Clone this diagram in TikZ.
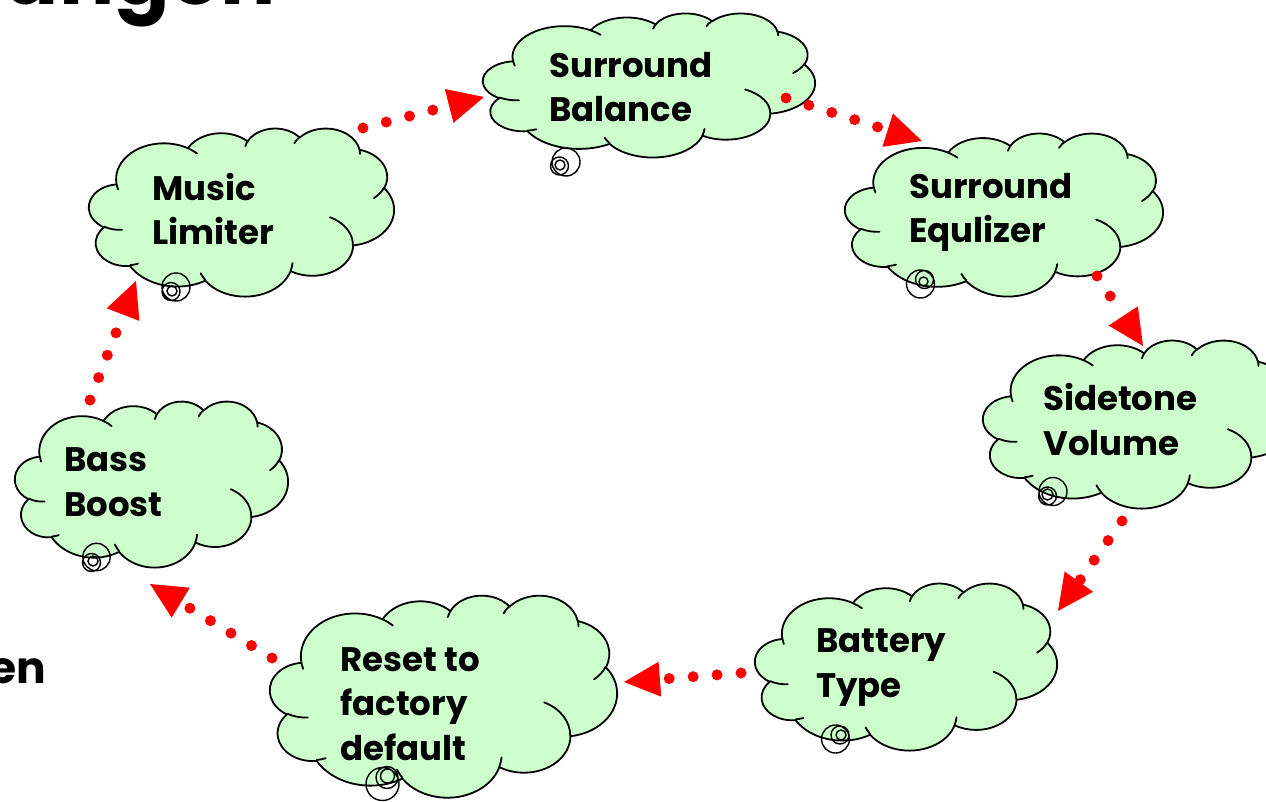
\documentclass[tikz,border=0pt]{standalone}
\usepackage{fontspec}
\setmainfont{Poppins}
\usetikzlibrary{arrows.meta,calc,shapes.geometric}
\definecolor{cloudgreen}{RGB}{204,255,204}
\definecolor{flowred}{RGB}{255,0,0}

% convert OOXML visual angles to parametric ones
\newcommand\pptarcang[4]{%
  \pgfmathsetmacro\pptAx{atan2((#1)*sin(#3),(#2)*cos(#3))}%
  \pgfmathsetmacro\pptRx{atan2((#1)*sin((#3)+(#4)),(#2)*cos((#3)+(#4)))}%
  \pgfmathsetmacro\pptDx{\pptRx-\pptAx-(#4)}%
  \pgfmathsetmacro\pptDx{\pptDx-360*round(\pptDx/360)}%
  \pgfmathsetmacro\pptBx{\pptAx+(#4)+\pptDx}%
  \global\let\pptA\pptAx \global\let\pptB\pptBx}
\newcommand\pparc[4]{\pgfextra{\pptarcang{#1}{#2}{#3}{#4}} arc[start angle=\pptA, end angle=\pptB, x radius=#1, y radius=#2]}

\newcommand\cloudoutline{(39.00,143.70)
  \pparc{67.53}{91.90}{-190.4875}{123.7805}
  \pparc{53.33}{72.67}{-144.1024}{89.9452}
  \pparc{43.65}{59.45}{-145.8079}{99.7230}
  \pparc{48.57}{65.95}{-130.9861}{117.2417}
  \pparc{53.33}{72.73}{-78.7089}{109.0269}
  \pparc{67.75}{92.20}{-46.2673}{130.2690}
  \pparc{57.85}{78.67}{0.6250}{114.0333}
  \pparc{67.52}{92.15}{22.4516}{115.1726}
  \pparc{77.20}{105.43}{66.2426}{75.7110}
  \pparc{43.60}{59.18}{-274.9421}{146.7356}
  \pparc{43.45}{59.45}{-246.8285}{152.5189}
  -- cycle}
\newcommand\cloudinner{%
  (46.93,261.77) \pparc{43.45}{59.45}{86.7420}{26.4295}
  (69.28,348.99) \pparc{43.60}{59.18}{73.6105}{11.4475}
  (164.78,390.90) \pparc{67.52}{92.15}{137.6242}{14.0811}
  (288.27,347.51) \pparc{67.52}{92.15}{6.4533}{15.9984}
  (341.29,229.54) \pparc{57.85}{78.67}{-70.2924}{70.9174}
  (417.98,153.54) \pparc{53.33}{72.73}{30.3180}{27.7515}
  (383.24,54.26) \pparc{48.57}{65.95}{-13.7443}{14.8589}
  (290.78,39.52) \pparc{48.57}{65.95}{-149.1815}{18.1954}
  (221.41,47.20) \pparc{43.65}{59.45}{-163.4943}{17.6864}
  (140.00,51.92) \pparc{67.53}{91.90}{-66.7070}{12.3194}
  (41.27,157.89) \pparc{67.53}{91.90}{157.6544}{11.8582}}

\tikzset{
  cloudframe/.style={ellipse, inner sep=0pt, draw=none},
  cloudshape/.style={draw=black, fill=cloudgreen, line width=1.8pt, line join=round},
  cloudinnerline/.style={draw=black, line width=1.8pt, line cap=round},
  bubble/.style={draw=black, line width=1.4pt},
  lbl/.style={font=\bfseries\fontsize{34}{44.5}\selectfont, align=left, inner sep=0pt, anchor=base west, text=black},
  flow/.style={draw=flowred, line width=11pt, line cap=round, dash pattern=on 0pt off 24pt,
    -{Triangle[length=36pt,width=35pt,line width=0pt]}, fill=none}
}

\newcommand\pptcloud[5]{%
  \node[cloudframe, minimum width=#4pt, minimum height=#5pt] (#1) at ({#2+#4/2},{#3+#5/2}) {};
  \begin{scope}[shift={(#2,#3)}, xscale=#4/432, yscale=#5/432]
    \path[cloudshape] \cloudoutline;
    \path[cloudinnerline] \cloudinner;
  \end{scope}}

\begin{document}
\begin{tikzpicture}[x=1pt, y=-1pt]
\useasboundingbox (0,0) rectangle (1266,802);
\fill[white] (0,0) rectangle (1266,802);

% partial heading and side text (cut by the slide edge, as in the reference)
\node[font=\bfseries\fontsize{82}{90}\selectfont, anchor=base east, inner sep=0pt] (head) at (276,5) {ungen};
\node[font=\bfseries\fontsize{44}{50}\selectfont, anchor=base east, inner sep=0pt] (side) at (46,683) {en};

% clouds: name, left, top, width, height
\pptcloud{sb}{483}{13}{332}{144}
\pptcloud{se}{845}{133}{318}{163}
\pptcloud{st}{983}{340}{310}{168}
\pptcloud{bt}{755}{583}{302}{167}
\pptcloud{rs}{270}{595}{347}{202}
\pptcloud{bb}{15}{401}{273}{166}
\pptcloud{ml}{89}{128}{305}{168}

% thought bubbles
\draw[bubble] (566,162) circle[radius=14] (559.5,166) circle[radius=9] (560,165) circle[radius=5];
\draw[bubble] (920.5,284) circle[radius=14] (924.5,279.5) circle[radius=9] (923.5,281.5) circle[radius=4.5];
\draw[bubble] (1053,491.5) circle[radius=14] (1047.5,496) circle[radius=9] (1047.5,494.5) circle[radius=5.5];
\draw[bubble] (835.5,739) circle[radius=14] (840,735) circle[radius=9] (841,735) circle[radius=5];
\draw[bubble] (382.5,784) circle[radius=16.5] (387,777.5) circle[radius=11] (387.5,776) circle[radius=7];
\draw[bubble] (96.5,557) circle[radius=13.7] (91.5,562.5) circle[radius=9] (93,561) circle[radius=5];
\draw[bubble] (176,287) circle[radius=14] (171,291.5) circle[radius=9] (172,291) circle[radius=5];

% labels (anchored at the baseline of their last line)
\node[lbl] (sbt) at (549,122) {Surround\\Balance};
\node[lbl] (set) at (909,243) {Surround\\Equlizer};
\node[lbl] (stt) at (1043,455) {Sidetone\\Volume};
\node[lbl] (btt) at (816,697) {Battery\\Type};
\node[lbl] (rst) at (340,760) {Reset to\\factory\\default};
\node[lbl] (bbt) at (64,516) {Bass\\Boost};
\node[lbl] (mlt) at (152,245) {Music\\Limiter};

% flow arrows
\draw[flow] ($(ml)+(121.5,-84)$) -- ($(sb)+(-165,12)$);
\draw[flow] ($(sb)+(137,13)$) -- ($(se)+(-82,-73.5)$);
\draw[flow] ($(se)+(93,61.5)$) -- ($(st)+(5,-78)$);
\draw[flow] ($(st)+(-16,97)$) -- ($(bt)+(152,-55.5)$);
\draw[flow] ($(bt)+(-165,6.5)$) -- ($(rs)+(180.5,-14)$);
\draw[flow] ($(rs)+(-171.5,-38)$) -- ($(bb)+(-1.5,100)$);
\draw[flow] ($(bb)+(-61.5,-84)$) -- ($(ml)+(-105.5,69)$);
\end{tikzpicture}
\end{document}
